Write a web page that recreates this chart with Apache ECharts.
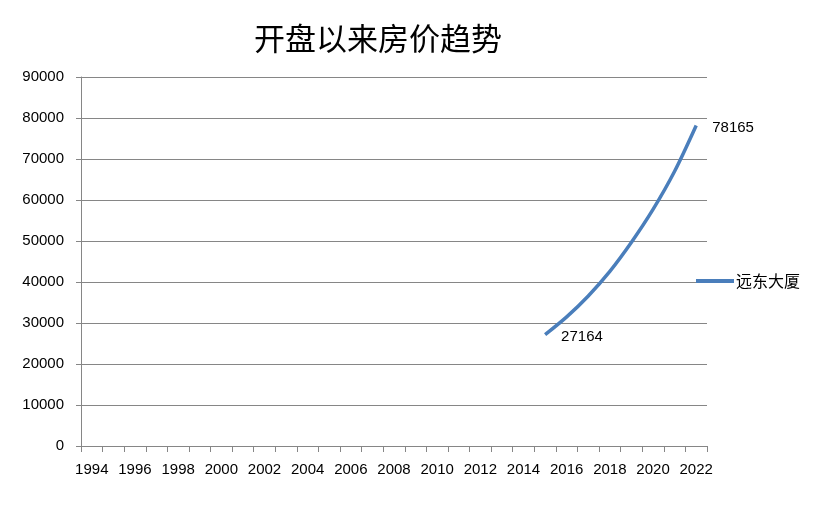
<!DOCTYPE html>
<html>
<head>
<meta charset="utf-8">
<script src="https://cdn.jsdelivr.net/npm/echarts@6/dist/echarts.min.js"></script>
<style>html,body{margin:0;padding:0;background:#fff}#c{width:826px;height:509px}</style>
</head>
<body>
<div id="c"></div>
<script>
var titleText = '开盘以来房价趋势';
var seriesName = '远东大厦';
var years = [];
for (var y = 1994; y <= 2022; y++) years.push(String(y));
var startYear = '2015';
var prices = [27164, 31500, 36600, 42600, 49700, 57700, 67000, 78165];
var yMin = 0, yMax = 90000, yStep = 10000;

var startIdx = years.indexOf(startYear);
var seriesData = years.map(function (yr, i) {
  var k = i - startIdx;
  if (k < 0 || k >= prices.length) return null;
  var item = { value: prices[k], symbolSize: 0 };
  if (k === 0 || k === prices.length - 1) {
    item.label = { show: true, position: 'right', distance: 16, offset: [0, 2] };
  }
  return item;
});

var chart = echarts.init(document.getElementById('c'));
chart.setOption({
  backgroundColor: '#fff',
  animation: false,
  title: {
    text: titleText, left: 249, top: 18,
    textStyle: { fontFamily: 'Noto Sans CJK SC', fontSize: 31, fontWeight: 'normal', color: '#000' }
  },
  legend: {
    data: [seriesName], orient: 'vertical', left: 691, top: 268,
    icon: 'rect', itemWidth: 38, itemHeight: 4, itemGap: 4,
    itemStyle: { color: '#4a7ebb', opacity: 1 },
    textStyle: { fontFamily: 'Noto Sans CJK SC', fontSize: 16, color: '#000', padding: [0,0,0,-3] }
  },
  grid: { left: 81, right: 119, top: 77, bottom: 63, containLabel: false },
  xAxis: {
    type: 'category', data: years, boundaryGap: true,
    axisLine: { lineStyle: { color: '#868686', width: 1 } },
    axisTick: { show: true, interval: 0, length: 6, lineStyle: { color: '#868686' } },
    axisLabel: { interval: 1, color: '#000', fontSize: 15, fontFamily: 'Liberation Sans', margin: 16 }
  },
  yAxis: {
    type: 'value', min: yMin, max: yMax, interval: yStep,
    axisLine: { show: true, lineStyle: { color: '#868686', width: 1 } },
    axisTick: { show: true, length: 5, lineStyle: { color: '#868686' } },
    axisLabel: { color: '#000', fontSize: 15, fontFamily: 'Liberation Sans', margin: 17,
      formatter: function (v) { return String(v); } },
    splitLine: { show: true, lineStyle: { color: '#868686', width: 1 } }
  },
  series: [{
    name: seriesName, type: 'line', data: seriesData, smooth: 0.3,
    showSymbol: true, symbol: 'circle', symbolSize: 0, connectNulls: false,
    lineStyle: { color: '#4a7ebb', width: 3.5 },
    itemStyle: { color: '#4a7ebb' },
    label: { show: false, color: '#000', fontSize: 15, fontFamily: 'Liberation Sans' }
  }]
});
</script>
</body>
</html>
